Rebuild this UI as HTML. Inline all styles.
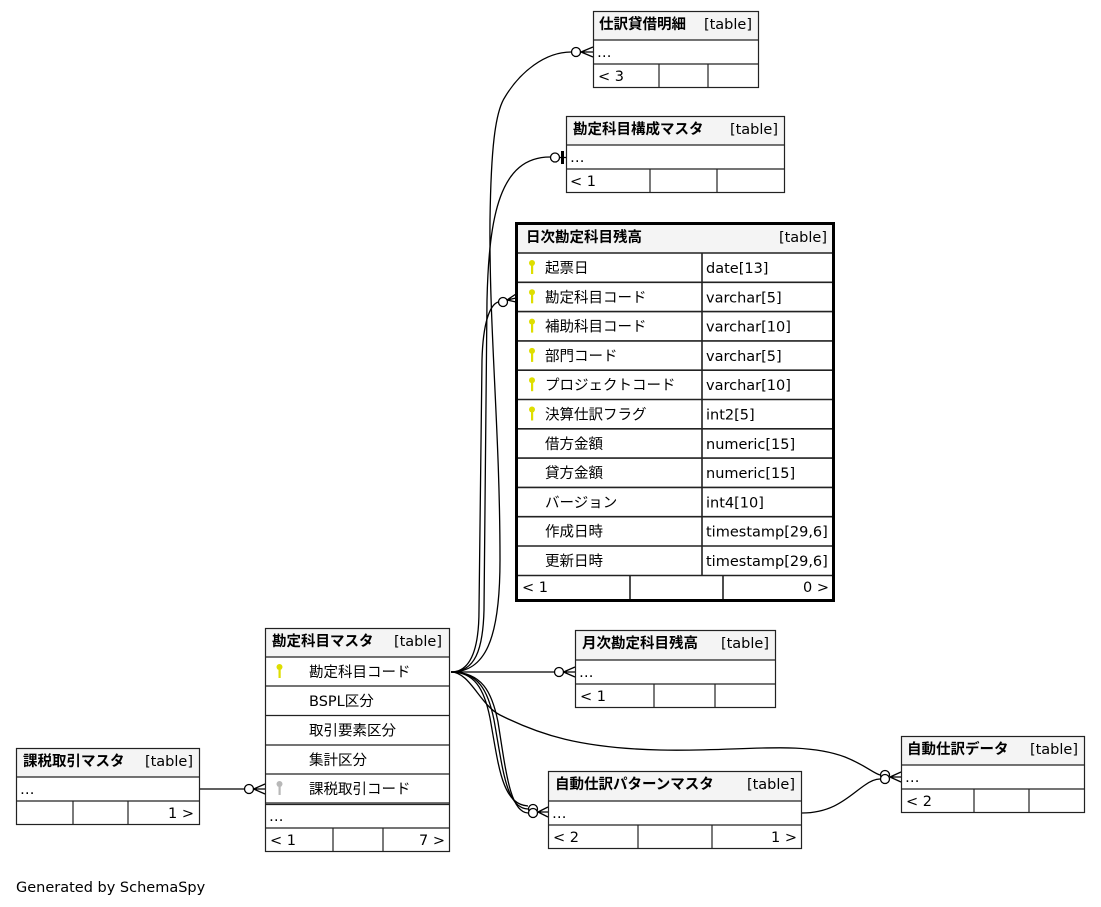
<!DOCTYPE html>
<html><head><meta charset="utf-8">
<style>
html,body{margin:0;padding:0;background:#fff;}
svg{display:block;}
text{font-family:"DejaVu Sans","Liberation Sans","Noto Sans CJK JP",sans-serif;font-size:14.5px;fill:#000;}
.b{font-weight:bold;}
.t{stroke:#222;stroke-width:1.2;fill:none;}
.h{fill:#f4f4f4;}
.e{stroke:#000;stroke-width:1.3;fill:none;}
.c{stroke:#000;stroke-width:1.3;fill:#fff;}
.ky{fill:#dede00;}
.kg{fill:#b8b8b8;}
</style></head><body>
<svg width="1101" height="907" viewBox="0 0 1101 907" xmlns="http://www.w3.org/2000/svg">

<!-- ============ connectors ============ -->
<!-- to 仕訳貸借明細 -->
<path class="e" d="M451,672 C485,672 500,640 500,560 C500,430 489,330 490,220 C491,150 495,112 505,97 C520,72 545,52 571,52"/>
<!-- to 勘定科目構成マスタ -->
<path class="e" d="M451,672 C475,672 483,650 484,610 L487,300 C489,215 500,157 550,157"/>
<!-- to 日次 -->
<path class="e" d="M451,672 C470,672 479,650 479,610 L482,360 C483,322 490,305 498,302"/>
<!-- to 月次 -->
<path class="e" d="M451,672 L554,672"/>
<!-- to パターン (3 lines) -->
<path class="e" d="M451,672 C478,672 488,690 494,720 C503,770 506,808 528,809"/>
<path class="e" d="M451,672 C482,672 492,692 498,722 C506,772 510,812 528,813"/>
<path class="e" d="M451,672 C474,672 484,688 490,718 C499,768 502,804 528,806"/>
<!-- to 自動仕訳データ -->
<path class="e" d="M451,672 C470,672 480,705 500,715 C540,735 580,748 660,750 C740,752 800,740 845,757 C865,765 873,773 880,775"/>
<!-- パターン to データ -->
<path class="e" d="M802,813 C835,813 850,795 865,785 C872,780 876,779 880,779"/>
<!-- 課税 to 勘定科目マスタ -->
<path class="e" d="M200,789 L244,789"/>

<!-- arrowheads -->
<!-- 仕訳貸借明細 -->
<circle class="c" cx="576" cy="52" r="4.5"/>
<path class="e" d="M581,52 L593,47 M581,52 L593,52 M581,52 L593,57"/>
<!-- 構成マスタ tee -->
<circle class="c" cx="555" cy="157.5" r="4.5"/>
<path d="M560,157.5 L566,157.5" class="e"/>
<rect x="561" y="151" width="3" height="13" fill="#000"/>
<!-- 日次 -->
<circle class="c" cx="503" cy="302" r="4.5"/>
<path class="e" d="M507,300 L516,294 M507,300 L516,298 M507,300 L516,302"/>
<!-- 月次 -->
<circle class="c" cx="559" cy="672" r="4.5"/>
<path class="e" d="M563.5,672 L575,667 M563.5,672 L575,672 M563.5,672 L575,677"/>
<!-- パターン -->
<circle class="c" cx="533" cy="809" r="4.5"/>
<circle class="c" cx="533" cy="813" r="4.5"/>
<path class="e" d="M538,812 L548,807 M538,812 L548,812 M538,812 L548,817"/>
<!-- データ -->
<circle class="c" cx="885" cy="775" r="4.5"/>
<circle class="c" cx="885" cy="779" r="4.5"/>
<path class="e" d="M890,777 L901,772 M890,777 L901,777 M890,777 L901,782"/>
<!-- 課税 -->
<circle class="c" cx="249" cy="789" r="4.5"/>
<path class="e" d="M253.5,789 L265,784 M253.5,789 L265,789 M253.5,789 L265,794"/>

<!-- ============ 仕訳貸借明細 ============ -->
<rect x="593.5" y="11.5" width="165" height="28.5" class="h"/>
<rect x="593.5" y="11.5" width="165" height="76" class="t"/>
<path class="t" d="M593.5,40 H758.5 M593.5,64 H758.5 M659,64 V87.5 M708,64 V87.5"/>
<text x="599" y="29" class="b">仕訳貸借明細</text>
<text x="752" y="29" text-anchor="end">[table]</text>
<text x="597" y="57">…</text>
<text x="598" y="81">&lt; 3</text>

<!-- ============ 勘定科目構成マスタ ============ -->
<rect x="566.5" y="116.5" width="218" height="28.5" class="h"/>
<rect x="566.5" y="116.5" width="218" height="76" class="t"/>
<path class="t" d="M566.5,145 H784.5 M566.5,169 H784.5 M650,169 V192.5 M717,169 V192.5"/>
<text x="573" y="134" class="b">勘定科目構成マスタ</text>
<text x="778" y="134" text-anchor="end">[table]</text>
<text x="570" y="162">…</text>
<text x="570" y="186">&lt; 1</text>

<!-- ============ 日次勘定科目残高 ============ -->
<rect x="517" y="224" width="316" height="29" class="h"/>
<path class="t" d="M517,253 H833 M517,282.3 H833 M517,311.6 H833 M517,340.9 H833 M517,370.2 H833 M517,399.5 H833 M517,428.8 H833 M517,458.1 H833 M517,487.4 H833 M517,516.7 H833 M517,546 H833 M517,575.5 H833 M702,253 V575.5 M630,575.5 V599 M723,575.5 V599" style="stroke-width:1.6"/>
<rect x="516.5" y="223.5" width="317" height="377" fill="none" stroke="#000" stroke-width="3"/>
<text x="526" y="242" class="b">日次勘定科目残高</text>
<text x="827" y="242" text-anchor="end">[table]</text>

<g>
<circle class="ky" cx="532" cy="263" r="3"/><rect class="ky" x="531" y="263" width="2.2" height="11"/>
<circle class="ky" cx="532" cy="292.3" r="3"/><rect class="ky" x="531" y="292.3" width="2.2" height="11"/>
<circle class="ky" cx="532" cy="321.6" r="3"/><rect class="ky" x="531" y="321.6" width="2.2" height="11"/>
<circle class="ky" cx="532" cy="350.9" r="3"/><rect class="ky" x="531" y="350.9" width="2.2" height="11"/>
<circle class="ky" cx="532" cy="380.2" r="3"/><rect class="ky" x="531" y="380.2" width="2.2" height="11"/>
<circle class="ky" cx="532" cy="409.5" r="3"/><rect class="ky" x="531" y="409.5" width="2.2" height="11"/>
</g>
<text x="545" y="273">起票日</text><text x="706" y="273">date[13]</text>
<text x="545" y="302.3">勘定科目コード</text><text x="706" y="302.3">varchar[5]</text>
<text x="545" y="331.6">補助科目コード</text><text x="706" y="331.6">varchar[10]</text>
<text x="545" y="360.9">部門コード</text><text x="706" y="360.9">varchar[5]</text>
<text x="545" y="390.2">プロジェクトコード</text><text x="706" y="390.2">varchar[10]</text>
<text x="545" y="419.5">決算仕訳フラグ</text><text x="706" y="419.5">int2[5]</text>
<text x="545" y="448.8">借方金額</text><text x="706" y="448.8">numeric[15]</text>
<text x="545" y="478.1">貸方金額</text><text x="706" y="478.1">numeric[15]</text>
<text x="545" y="507.4">バージョン</text><text x="706" y="507.4">int4[10]</text>
<text x="545" y="536.7">作成日時</text><text x="706" y="536.7">timestamp[29,6]</text>
<text x="545" y="566">更新日時</text><text x="706" y="566">timestamp[29,6]</text>
<text x="522" y="592">&lt; 1</text>
<text x="829" y="592" text-anchor="end">0 &gt;</text>

<!-- ============ 勘定科目マスタ ============ -->
<rect x="265.5" y="628.5" width="184" height="28.5" class="h"/>
<rect x="265.5" y="628.5" width="184" height="223" class="t"/>
<path class="t" d="M265.5,657 H449.5 M265.5,686 H449.5 M265.5,715.5 H449.5 M265.5,745 H449.5 M265.5,774 H449.5 M265.5,803 H449.5 M265.5,828 H449.5 M333,828 V851.5 M383,828 V851.5"/>
<path class="t" d="M265.5,804.5 H449.5"/>
<text x="272" y="646" class="b">勘定科目マスタ</text>
<text x="442" y="646" text-anchor="end">[table]</text>
<circle class="ky" cx="279.5" cy="667" r="3"/><rect class="ky" x="278.5" y="667" width="2.2" height="11"/>
<circle class="kg" cx="279.5" cy="784" r="3"/><rect class="kg" x="278.5" y="784" width="2.2" height="11"/>
<text x="309" y="677">勘定科目コード</text>
<text x="309" y="706">BSPL区分</text>
<text x="309" y="735.5">取引要素区分</text>
<text x="309" y="765">集計区分</text>
<text x="309" y="794">課税取引コード</text>
<text x="269" y="821">…</text>
<text x="270" y="845">&lt; 1</text>
<text x="445" y="845" text-anchor="end">7 &gt;</text>

<!-- ============ 課税取引マスタ ============ -->
<rect x="16.5" y="748.5" width="183" height="28.5" class="h"/>
<rect x="16.5" y="748.5" width="183" height="76" class="t"/>
<path class="t" d="M16.5,777 H199.5 M16.5,801 H199.5 M73,801 V824.5 M128,801 V824.5"/>
<text x="23" y="766" class="b">課税取引マスタ</text>
<text x="193" y="766" text-anchor="end">[table]</text>
<text x="20" y="794">…</text>
<text x="194" y="818" text-anchor="end">1 &gt;</text>

<!-- ============ 月次勘定科目残高 ============ -->
<rect x="575.5" y="630.5" width="200" height="29.5" class="h"/>
<rect x="575.5" y="630.5" width="200" height="77" class="t"/>
<path class="t" d="M575.5,660 H775.5 M575.5,684 H775.5 M654,684 V707.5 M715,684 V707.5"/>
<text x="582" y="648" class="b">月次勘定科目残高</text>
<text x="769" y="648" text-anchor="end">[table]</text>
<text x="579" y="677">…</text>
<text x="580" y="701">&lt; 1</text>

<!-- ============ 自動仕訳パターンマスタ ============ -->
<rect x="548.5" y="771.5" width="253" height="29.5" class="h"/>
<rect x="548.5" y="771.5" width="253" height="77" class="t"/>
<path class="t" d="M548.5,801 H801.5 M548.5,825 H801.5 M638,825 V848.5 M712,825 V848.5"/>
<text x="555" y="789" class="b">自動仕訳パターンマスタ</text>
<text x="795" y="789" text-anchor="end">[table]</text>
<text x="552" y="818">…</text>
<text x="553" y="842">&lt; 2</text>
<text x="797" y="842" text-anchor="end">1 &gt;</text>

<!-- ============ 自動仕訳データ ============ -->
<rect x="901.5" y="736.5" width="183" height="28.5" class="h"/>
<rect x="901.5" y="736.5" width="183" height="76" class="t"/>
<path class="t" d="M901.5,765 H1084.5 M901.5,789 H1084.5 M974,789 V812.5 M1029,789 V812.5"/>
<text x="907" y="754" class="b">自動仕訳データ</text>
<text x="1078" y="754" text-anchor="end">[table]</text>
<text x="905" y="782">…</text>
<text x="906" y="806">&lt; 2</text>

<text x="16" y="892">Generated by SchemaSpy</text>
</svg>
</body></html>
